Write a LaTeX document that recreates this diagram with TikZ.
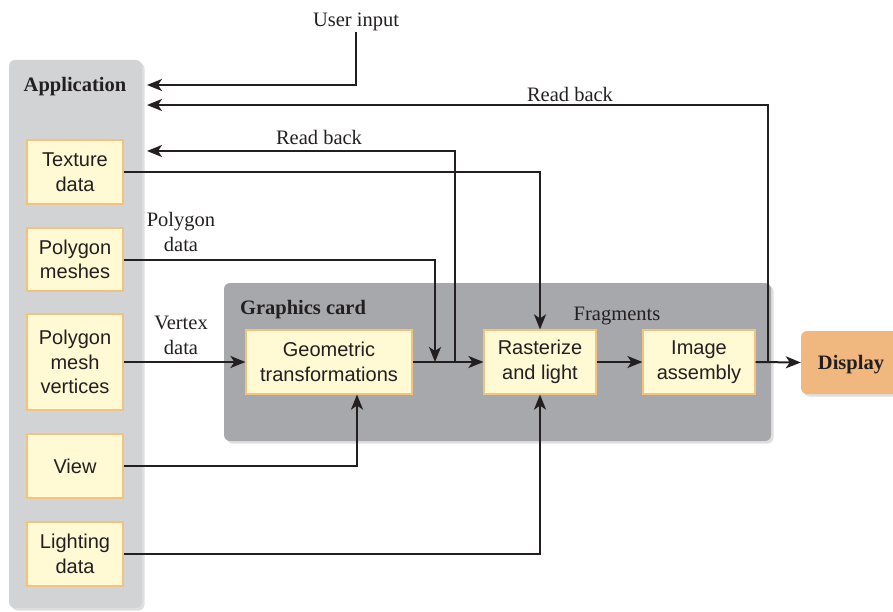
\documentclass[tikz,border=0pt]{standalone}
\usepackage{fontspec}
\setmainfont{Liberation Serif}
\setsansfont{Liberation Sans}
\usetikzlibrary{arrows.meta,shadows}
\definecolor{boxfill}{HTML}{FFF9D4}
\definecolor{boxline}{HTML}{F2C27E}
\definecolor{appfill}{HTML}{D1D3D5}
\definecolor{gpufill}{HTML}{A7A8AC}
\definecolor{dispfill}{HTML}{F0B77F}
\definecolor{ink}{HTML}{231F20}
\tikzset{
  databox/.style={draw=boxline, line width=1.2pt, fill=boxfill, inner sep=0pt, align=center,
    font=\sffamily\fontsize{20}{24.5}\selectfont, text=ink},
  panel/.style={rounded corners=6pt, drop shadow={shadow xshift=2.5pt, shadow yshift=-2.5pt, opacity=0.25}},
  lbl/.style={font=\fontsize{20.5}{25}\selectfont, text=ink, align=center, inner sep=0pt},
  lbl1/.style={lbl, yshift=-3pt},
  ttl/.style={font=\bfseries\fontsize{20.5}{25}\selectfont, text=ink, inner sep=0pt, yshift=-3pt},
  conn/.style={draw=ink, line width=2pt},
  arr/.style={conn, -{Stealth[length=15pt,width=12pt,inset=4pt]}},
}
\begin{document}
\begin{tikzpicture}[x=1pt,y=-1pt]
\useasboundingbox (0,0) rectangle (893,612);
% panels
\fill[appfill, panel] (9,60) rectangle (142,608);
\fill[gpufill, panel] (224,283) rectangle (771,441);
\node[ttl] (apptitle) at (75,84) {Application};
\node[ttl] (gputitle) at (303,307) {Graphics card};
% application boxes
\node[databox, minimum width=96pt, minimum height=64pt] (tex) at (75,172) {Texture\\data};
\node[databox, minimum width=96pt, minimum height=63pt] (pm) at (75,259.5) {Polygon\\meshes};
\node[databox, minimum width=96pt, minimum height=96pt] (pmv) at (75,362) {Polygon\\mesh\\vertices};
\node[databox, minimum width=96pt, minimum height=64pt] (view) at (75,466) {View};
\node[databox, minimum width=96pt, minimum height=64pt] (light) at (75,554) {Lighting\\data};
% pipeline boxes
\node[databox, minimum width=166pt, minimum height=64pt] (geo) at (329,362) {Geometric\\transformations};
\node[databox, minimum width=112pt, minimum height=64pt] (rast) at (540,362) {Rasterize\\and light};
\node[databox, minimum width=112pt, minimum height=64pt] (img) at (699,362) {Image\\assembly};
\node[fill=dispfill, rounded corners=6pt, minimum width=110pt, minimum height=63pt, inner sep=0pt,
  drop shadow={shadow xshift=2.5pt, shadow yshift=-2.5pt, opacity=0.25}] (disp) at (856,362.5) {};
\node[ttl] (disptxt) at (851,362) {Display};
% labels
\node[lbl1] (ui) at (356,19) {User input};
\node[lbl1] (rb1) at (570,91) {Read back};
\node[lbl1] (rb2) at (319,134) {Read back};
\node[lbl] (pdl) at (181,231.5) {Polygon\\data};
\node[lbl] (vdl) at (181,335.5) {Vertex\\data};
\node[lbl1] (frl) at (617,313) {Fragments};
% coordinates
\coordinate (a1) at (147,85);
\coordinate (a2) at (147,105);
\coordinate (a3) at (147,151);
\coordinate (j1) at (435,362);
\coordinate (j2) at (455,362);
\coordinate (j3) at (768,362);
\coordinate (ui0) at (356,32);
% connectors
\draw[arr] (ui0) |- (a1);
\draw[arr] (j3) |- (a2);
\draw[arr] (j2) |- (a3);
\draw[arr] (tex.east) -| (rast.north);
\draw[arr] (pm.east) -| (j1);
\draw[arr] (pmv.east) -- (geo.west);
\draw[arr] (geo.east) -- (rast.west);
\draw[arr] (rast.east) -- (img.west);
\draw[arr] (img.east) -- (disp.west);
\draw[arr] (view.east) -| ([xshift=28pt]geo.south);
\draw[arr] (light.east) -| (rast.south);
\end{tikzpicture}
\end{document}
